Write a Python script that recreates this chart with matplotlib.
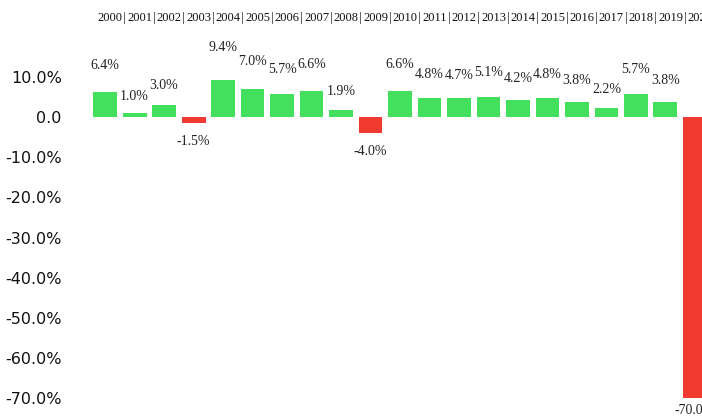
import matplotlib.pyplot as plt
import numpy as np

# Datos: variación anual (%)
anios = ["2000", "2001", "2002", "2003", "2004", "2005", "2006", "2007", "2008", "2009",
         "2010", "2011", "2012", "2013", "2014", "2015", "2016", "2017", "2018", "2019", "2020"]
valores = [6.4, 1.0, 3.0, -1.5, 9.4, 7.0, 5.7, 6.6, 1.9, -4.0,
           6.6, 4.8, 4.7, 5.1, 4.2, 4.8, 3.8, 2.2, 5.7, 3.8, -70.0]
yticks = [10, 0, -10, -20, -30, -40, -50, -60, -70]
ytick_labels = ["10.0%", "0.0", "-10.0%", "-20.0%", "-30.0%", "-40.0%", "-50.0%", "-60.0%", "-70.0%"]

x = np.arange(len(anios))
colores = ["#42e05c" if v >= 0 else "#f03a30" for v in valores]

fig = plt.figure(figsize=(7.02, 4.19), dpi=100)
ax = fig.add_axes([70 / 702, 0, 1 - 70 / 702, 1])

ax.bar(x, valores, width=0.81, color=colores, edgecolor="none")

# etiquetas de valor
for xi, v in zip(x, valores):
    if v >= 0:
        y = 1.45 * v + 3.7
    else:
        y = max(v - 4.5, -73.2)
    ax.text(xi, y, f"{v:.1f}%", ha="center", va="center",
            fontsize=10, family="Liberation Serif", color="#222222")

# años arriba, separados por "|"
tr = ax.get_xaxis_transform()
for i, a in enumerate(anios):
    ax.text(i + 0.17, 0.958, a, transform=tr, ha="center", va="center",
            fontsize=9, family="Liberation Serif", color="#111111")
    if i < len(anios) - 1:
        ax.text(i + 0.665, 0.958, "|", transform=tr, ha="center", va="center",
                fontsize=9, family="Liberation Serif", color="#111111")

ax.set_xlim(-1.19, 20.24)
ax.set_ylim(-75.25, 29.25)
ax.set_xticks([])
ax.set_yticks(yticks)
ax.set_yticklabels(ytick_labels, fontsize=11.5, family="DejaVu Sans", color="#111111")
ax.tick_params(axis="y", length=0, pad=6)
for s in ax.spines.values():
    s.set_visible(False)

plt.savefig("out.png", dpi=100)
